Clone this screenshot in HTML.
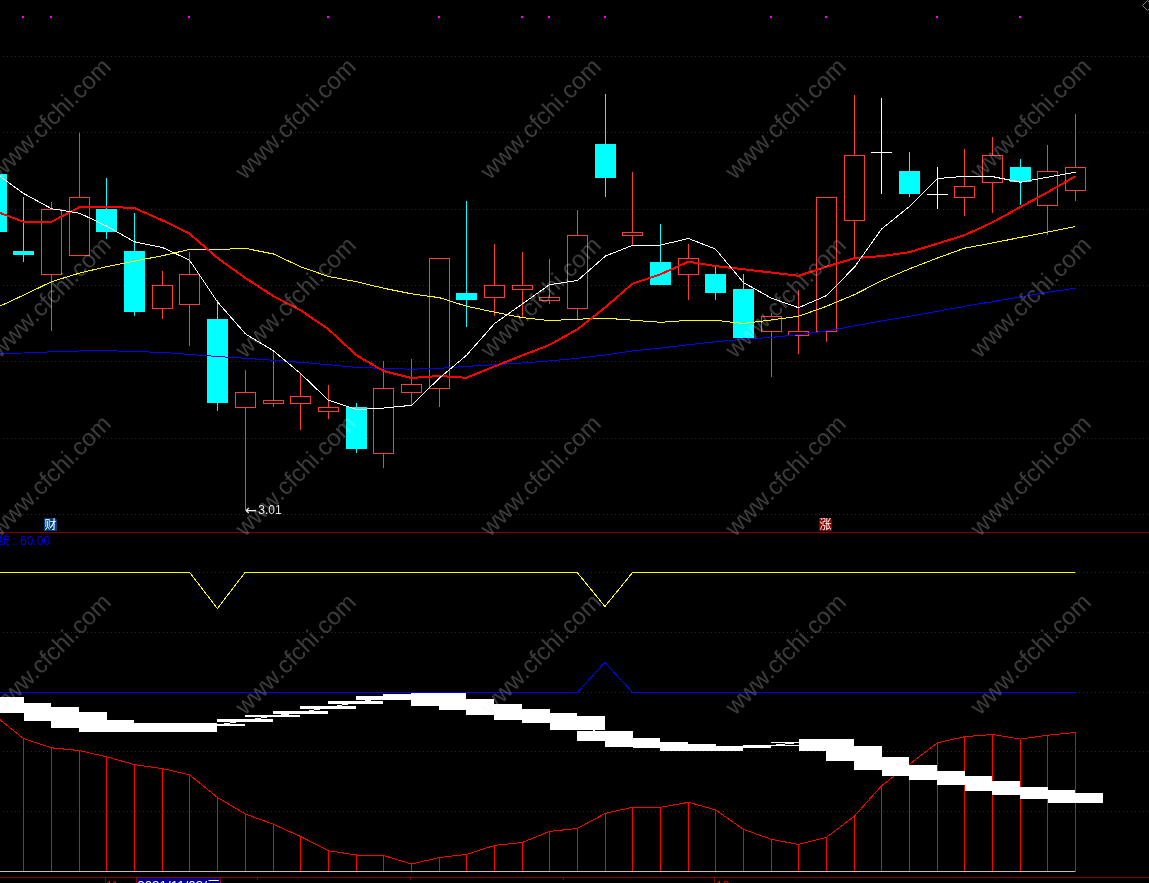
<!DOCTYPE html>
<html lang="zh"><head><meta charset="utf-8"><title>chart</title>
<style>html,body{margin:0;padding:0;background:#000;width:1149px;height:883px;overflow:hidden}</style>
</head><body>
<svg width="1149" height="883" viewBox="0 0 1149 883" style="display:block;position:absolute;left:0;top:0;will-change:transform">
<rect width="1149" height="883" fill="#000"/>
<g stroke="#8E0000" stroke-width="1" stroke-dasharray="1 3" shape-rendering="crispEdges">
<line x1="3" y1="56.5" x2="1149" y2="56.5"/>
<line x1="3" y1="132.5" x2="1149" y2="132.5"/>
<line x1="3" y1="209.5" x2="1149" y2="209.5"/>
<line x1="3" y1="285.5" x2="1149" y2="285.5"/>
<line x1="3" y1="361.5" x2="1149" y2="361.5"/>
<line x1="3" y1="438.5" x2="1149" y2="438.5"/>
<line x1="3" y1="514.5" x2="1149" y2="514.5"/>
<line x1="3" y1="572.5" x2="1149" y2="572.5"/>
<line x1="3" y1="632.5" x2="1149" y2="632.5"/>
<line x1="3" y1="692.5" x2="1149" y2="692.5"/>
<line x1="3" y1="751.5" x2="1149" y2="751.5"/>
<line x1="3" y1="811.5" x2="1149" y2="811.5"/>
</g>
<g fill="#FF00FF" shape-rendering="crispEdges">
<rect x="22" y="16" width="2" height="2"/>
<rect x="50" y="16" width="2" height="2"/>
<rect x="188" y="16" width="2" height="2"/>
<rect x="327" y="16" width="2" height="2"/>
<rect x="438" y="16" width="2" height="2"/>
<rect x="521" y="16" width="2" height="2"/>
<rect x="548" y="16" width="2" height="2"/>
<rect x="604" y="16" width="2" height="2"/>
<rect x="770" y="16" width="2" height="2"/>
<rect x="825" y="16" width="2" height="2"/>
<rect x="936" y="16" width="2" height="2"/>
<rect x="1019" y="16" width="2" height="2"/>
</g>
<path d="M1142.5 5.5 L1147.5 0.5 L1152.5 5.5 L1147.5 10.5 Z" fill="none" stroke="#808080" stroke-width="1"/>
<g shape-rendering="crispEdges">
<rect x="-4" y="174" width="1" height="58" fill="#00FFFF"/>
<rect x="-14" y="174" width="21" height="58" fill="#00FFFF"/>
<rect x="23" y="197" width="1" height="65" fill="#00FFFF"/>
<rect x="13" y="251" width="21" height="4" fill="#00FFFF"/>
<rect x="51" y="202" width="1" height="129" fill="#FF3C3C"/>
<rect x="41.5" y="209.5" width="20" height="65" fill="#000" stroke="#FF3C3C" stroke-width="1"/>
<rect x="79" y="133" width="1" height="123" fill="#FF3C3C"/>
<rect x="69.5" y="197.5" width="20" height="58" fill="#000" stroke="#FF3C3C" stroke-width="1"/>
<rect x="106" y="178" width="1" height="61" fill="#00FFFF"/>
<rect x="96" y="209" width="21" height="23" fill="#00FFFF"/>
<rect x="134" y="213" width="1" height="103" fill="#00FFFF"/>
<rect x="124" y="251" width="21" height="61" fill="#00FFFF"/>
<rect x="162" y="271" width="1" height="48" fill="#FF3C3C"/>
<rect x="152.5" y="285.5" width="20" height="23" fill="#000" stroke="#FF3C3C" stroke-width="1"/>
<rect x="189" y="252" width="1" height="94" fill="#FF3C3C"/>
<rect x="179.5" y="274.5" width="20" height="30" fill="#000" stroke="#FF3C3C" stroke-width="1"/>
<rect x="217" y="300" width="1" height="111" fill="#00FFFF"/>
<rect x="207" y="319" width="21" height="84" fill="#00FFFF"/>
<rect x="245" y="370" width="1" height="140" fill="#FF3C3C"/>
<rect x="235.5" y="392.5" width="20" height="15" fill="#000" stroke="#FF3C3C" stroke-width="1"/>
<rect x="273" y="352" width="1" height="55" fill="#FF3C3C"/>
<rect x="263.5" y="400.5" width="20" height="3" fill="#000" stroke="#FF3C3C" stroke-width="1"/>
<rect x="300" y="374" width="1" height="56" fill="#FF3C3C"/>
<rect x="290.5" y="396.5" width="20" height="7" fill="#000" stroke="#FF3C3C" stroke-width="1"/>
<rect x="328" y="385" width="1" height="34" fill="#FF3C3C"/>
<rect x="318.5" y="407.5" width="20" height="4" fill="#000" stroke="#FF3C3C" stroke-width="1"/>
<rect x="356" y="403" width="1" height="50" fill="#00FFFF"/>
<rect x="346" y="407" width="21" height="42" fill="#00FFFF"/>
<rect x="383" y="361" width="1" height="107" fill="#FF3C3C"/>
<rect x="373.5" y="388.5" width="20" height="65" fill="#000" stroke="#FF3C3C" stroke-width="1"/>
<rect x="411" y="359" width="1" height="47" fill="#FF3C3C"/>
<rect x="401.5" y="384.5" width="20" height="8" fill="#000" stroke="#FF3C3C" stroke-width="1"/>
<rect x="439" y="258" width="1" height="149" fill="#FF3C3C"/>
<rect x="429.5" y="258.5" width="20" height="130" fill="#000" stroke="#FF3C3C" stroke-width="1"/>
<rect x="466" y="201" width="1" height="126" fill="#00FFFF"/>
<rect x="456" y="293" width="21" height="7" fill="#00FFFF"/>
<rect x="494" y="244" width="1" height="72" fill="#FF3C3C"/>
<rect x="484.5" y="285.5" width="20" height="12" fill="#000" stroke="#FF3C3C" stroke-width="1"/>
<rect x="522" y="252" width="1" height="66" fill="#FF3C3C"/>
<rect x="512.5" y="285.5" width="20" height="4" fill="#000" stroke="#FF3C3C" stroke-width="1"/>
<rect x="549" y="259" width="1" height="45" fill="#FF3C3C"/>
<rect x="539.5" y="297.5" width="20" height="3" fill="#000" stroke="#FF3C3C" stroke-width="1"/>
<rect x="577" y="210" width="1" height="109" fill="#FF3C3C"/>
<rect x="567.5" y="235.5" width="20" height="73" fill="#000" stroke="#FF3C3C" stroke-width="1"/>
<rect x="605" y="94" width="1" height="103" fill="#00FFFF"/>
<rect x="595" y="144" width="21" height="34" fill="#00FFFF"/>
<rect x="632" y="172" width="1" height="74" fill="#FF3C3C"/>
<rect x="622.5" y="232.5" width="20" height="3" fill="#000" stroke="#FF3C3C" stroke-width="1"/>
<rect x="660" y="224" width="1" height="61" fill="#00FFFF"/>
<rect x="650" y="262" width="21" height="23" fill="#00FFFF"/>
<rect x="688" y="244" width="1" height="56" fill="#FF3C3C"/>
<rect x="678.5" y="258.5" width="20" height="16" fill="#000" stroke="#FF3C3C" stroke-width="1"/>
<rect x="715" y="267" width="1" height="33" fill="#00FFFF"/>
<rect x="705" y="274" width="21" height="19" fill="#00FFFF"/>
<rect x="743" y="274" width="1" height="64" fill="#00FFFF"/>
<rect x="733" y="289" width="21" height="49" fill="#00FFFF"/>
<rect x="771" y="313" width="1" height="64" fill="#FF3C3C"/>
<rect x="761.5" y="316.5" width="20" height="15" fill="#000" stroke="#FF3C3C" stroke-width="1"/>
<rect x="798" y="290" width="1" height="64" fill="#FF3C3C"/>
<rect x="788.5" y="331.5" width="20" height="4" fill="#000" stroke="#FF3C3C" stroke-width="1"/>
<rect x="826" y="197" width="1" height="145" fill="#FF3C3C"/>
<rect x="816.5" y="197.5" width="20" height="134" fill="#000" stroke="#FF3C3C" stroke-width="1"/>
<rect x="854" y="95" width="1" height="163" fill="#FF3C3C"/>
<rect x="844.5" y="155.5" width="20" height="65" fill="#000" stroke="#FF3C3C" stroke-width="1"/>
<rect x="881" y="98" width="1" height="96" fill="#fff"/>
<rect x="871" y="152" width="21" height="1" fill="#fff"/>
<rect x="909" y="152" width="1" height="45" fill="#00FFFF"/>
<rect x="899" y="171" width="21" height="23" fill="#00FFFF"/>
<rect x="937" y="167" width="1" height="42" fill="#fff"/>
<rect x="927" y="194" width="21" height="1" fill="#fff"/>
<rect x="964" y="149" width="1" height="67" fill="#FF3C3C"/>
<rect x="954.5" y="186.5" width="20" height="11" fill="#000" stroke="#FF3C3C" stroke-width="1"/>
<rect x="992" y="137" width="1" height="76" fill="#FF3C3C"/>
<rect x="982.5" y="155.5" width="20" height="27" fill="#000" stroke="#FF3C3C" stroke-width="1"/>
<rect x="1020" y="159" width="1" height="46" fill="#00FFFF"/>
<rect x="1010" y="167" width="21" height="15" fill="#00FFFF"/>
<rect x="1047" y="145" width="1" height="90" fill="#FF3C3C"/>
<rect x="1037.5" y="171.5" width="20" height="34" fill="#000" stroke="#FF3C3C" stroke-width="1"/>
<rect x="1075" y="114" width="1" height="87" fill="#FF3C3C"/>
<rect x="1065.5" y="167.5" width="20" height="23" fill="#000" stroke="#FF3C3C" stroke-width="1"/>
</g>
<polyline points="-3.5,353.4 23.5,353.0 51.5,351.8 79.5,351.0 106.5,350.5 134.5,351.7 162.5,352.3 189.5,354.5 217.5,356.5 245.5,358.3 273.5,360.3 300.5,362.3 328.5,364.7 356.5,367.4 383.5,368.4 411.5,369.2 439.5,368.3 466.5,366.4 494.5,364.7 522.5,363.0 549.5,360.9 577.5,358.3 605.5,354.9 632.5,350.9 660.5,348.1 688.5,344.7 715.5,341.7 743.5,339.3 771.5,337.3 798.5,334.7 826.5,330.9 854.5,325.9 881.5,320.9 909.5,316.3 937.5,311.3 964.5,306.3 992.5,301.7 1020.5,296.9 1047.5,292.2 1075.5,288.2" fill="none" stroke="#0000FF" stroke-width="1" stroke-linejoin="round" shape-rendering="crispEdges" />
<polyline points="-3.5,307.7 23.5,295.2 51.5,281.7 79.5,273.1 106.5,266.7 134.5,261.1 162.5,255.7 189.5,249.5 217.5,249.5 245.5,248.4 273.5,254.0 300.5,266.7 328.5,276.5 356.5,281.7 383.5,288.2 411.5,293.8 439.5,297.7 466.5,306.2 494.5,312.2 522.5,317.6 549.5,320.6 577.5,319.2 605.5,318.2 632.5,320.2 660.5,322.3 688.5,320.3 715.5,320.3 743.5,323.5 771.5,319.9 798.5,316.3 826.5,306.3 854.5,294.6 881.5,280.8 909.5,268.8 937.5,258.0 964.5,248.2 992.5,243.0 1020.5,237.4 1047.5,232.2 1075.5,226.5" fill="none" stroke="#FFFF00" stroke-width="1" stroke-linejoin="round" shape-rendering="crispEdges" />
<polyline points="-3.5,211.6 23.5,221.8 51.5,221.8 79.5,207.1 106.5,206.7 134.5,208.1 162.5,220.4 189.5,233.6 217.5,258.0 245.5,278.1 273.5,296.2 300.5,310.2 328.5,329.3 356.5,355.3 383.5,371.0 411.5,378.0 439.5,376.0 466.5,377.8 494.5,366.4 522.5,355.3 549.5,344.9 577.5,329.3 605.5,307.2 632.5,283.7 660.5,274.3 688.5,261.7 715.5,266.1 743.5,269.2 771.5,272.6 798.5,275.8 826.5,266.7 854.5,258.1 881.5,256.1 909.5,252.1 937.5,243.6 964.5,235.2 992.5,222.4 1020.5,207.0 1047.5,192.3 1075.5,176.2" fill="none" stroke="#FF0000" stroke-width="2" stroke-linejoin="round" shape-rendering="crispEdges" />
<polyline points="-3.5,173.9 23.5,193.4 51.5,208.7 79.5,213.2 106.5,226.0 134.5,241.8 162.5,247.5 189.5,260.1 217.5,301.9 245.5,333.9 273.5,350.9 300.5,373.5 328.5,400.3 356.5,409.6 383.5,408.1 411.5,405.3 439.5,378.0 466.5,355.3 494.5,323.6 522.5,303.8 549.5,284.7 577.5,280.5 605.5,256.0 632.5,245.4 660.5,245.1 688.5,238.5 715.5,249.1 743.5,282.6 771.5,298.2 798.5,307.7 826.5,295.6 854.5,267.1 881.5,229.1 909.5,206.4 937.5,178.5 964.5,176.3 992.5,176.6 1020.5,182.2 1047.5,177.2 1075.5,172.2" fill="none" stroke="#FFFFFF" stroke-width="1" stroke-linejoin="round" shape-rendering="crispEdges" />
<text x="245" y="515" font-family="'DejaVu Sans',sans-serif" font-size="14" fill="#F0F0F0">←</text>
<text x="258.3" y="514" font-family="'Liberation Sans',sans-serif" font-size="12" fill="#E6E6EC">3.01</text>
<path d="M44 518 H55 L57 520 V531 H44 Z" fill="#004080"/>
<text x="44.5" y="529" font-family="'Liberation Sans','Noto Sans CJK SC',sans-serif" font-size="12" fill="#fff">财</text>
<path d="M819 518 H830 L832 520 V531 H819 Z" fill="#8B0000"/>
<text x="819.5" y="529" font-family="'Liberation Sans','Noto Sans CJK SC',sans-serif" font-size="12" fill="#fff">涨</text>
<rect x="0" y="532" width="1149" height="1" fill="#800000"/>
<text y="545" font-family="'Liberation Sans','Noto Sans CJK SC',sans-serif" font-size="12" fill="#0000FF"><tspan x="-1.8">统</tspan><tspan x="12.3">: </tspan><tspan x="20.1">60.00</tspan></text>
<polyline points="0.0,572.5 189.7,572.5 217.4,608.5 245.0,572.5 577.2,572.5 604.9,606.5 632.6,572.5 1075.4,572.5" fill="none" stroke="#FFFF00" stroke-width="1" shape-rendering="crispEdges"/>
<polyline points="0.0,692.5 577.2,692.5 604.9,662.5 632.6,692.5 1075.4,692.5" fill="none" stroke="#0000FF" stroke-width="1" shape-rendering="crispEdges"/>
<g shape-rendering="crispEdges" fill="#FF0000">
<rect x="23" y="739" width="1" height="132"/>
<rect x="51" y="748" width="1" height="123"/>
<rect x="79" y="751" width="1" height="120"/>
<rect x="106" y="757" width="1" height="114"/>
<rect x="134" y="765" width="1" height="106"/>
<rect x="162" y="769" width="1" height="102"/>
<rect x="189" y="775" width="1" height="96"/>
<rect x="217" y="798" width="1" height="73"/>
<rect x="245" y="814" width="1" height="57"/>
<rect x="273" y="824" width="1" height="47"/>
<rect x="300" y="836" width="1" height="35"/>
<rect x="328" y="851" width="1" height="20"/>
<rect x="356" y="855" width="1" height="16"/>
<rect x="383" y="856" width="1" height="15"/>
<rect x="411" y="864" width="1" height="7"/>
<rect x="439" y="858" width="1" height="13"/>
<rect x="466" y="854" width="1" height="17"/>
<rect x="494" y="845" width="1" height="26"/>
<rect x="522" y="842" width="1" height="29"/>
<rect x="549" y="831" width="1" height="40"/>
<rect x="577" y="828" width="1" height="43"/>
<rect x="605" y="813" width="1" height="58"/>
<rect x="632" y="807" width="1" height="64"/>
<rect x="660" y="807" width="1" height="64"/>
<rect x="688" y="802" width="1" height="69"/>
<rect x="715" y="810" width="1" height="61"/>
<rect x="743" y="829" width="1" height="42"/>
<rect x="771" y="839" width="1" height="32"/>
<rect x="798" y="844" width="1" height="27"/>
<rect x="826" y="837" width="1" height="34"/>
<rect x="854" y="816" width="1" height="55"/>
<rect x="881" y="786" width="1" height="85"/>
<rect x="909" y="764" width="1" height="107"/>
<rect x="937" y="743" width="1" height="128"/>
<rect x="964" y="737" width="1" height="134"/>
<rect x="992" y="734" width="1" height="137"/>
<rect x="1020" y="739" width="1" height="132"/>
<rect x="1047" y="735" width="1" height="136"/>
<rect x="1075" y="732" width="1" height="139"/>
</g>
<polyline points="-3.5,716.9 23.5,738.6 51.5,747.8 79.5,750.6 106.5,756.8 134.5,764.6 162.5,768.6 189.5,774.8 217.5,797.5 245.5,814.1 273.5,824.3 300.5,836.5 328.5,850.7 356.5,855.0 383.5,855.5 411.5,864.0 439.5,857.5 466.5,854.4 494.5,845.4 522.5,842.4 549.5,831.4 577.5,828.4 605.5,813.3 632.5,807.3 660.5,807.3 688.5,802.3 715.5,809.9 743.5,829.4 771.5,839.4 798.5,844.4 826.5,837.4 854.5,816.0 881.5,785.8 909.5,764.2 937.5,742.7 964.5,736.7 992.5,734.5 1020.5,739.1 1047.5,735.3 1075.5,732.4" fill="none" stroke="#FF0000" stroke-width="1" stroke-linejoin="round" shape-rendering="crispEdges" />
<rect x="0" y="871" width="1075.4" height="1" fill="#C0C0C0"/>
<g fill="#fff" shape-rendering="crispEdges">
<rect x="-32" y="697" width="56" height="13"/>
<rect x="-4" y="703" width="55" height="10"/>
<rect x="24" y="707" width="55" height="14"/>
<rect x="51" y="712" width="56" height="16"/>
<rect x="79" y="720" width="55" height="12"/>
<rect x="107" y="723" width="55" height="9"/>
<rect x="134" y="723" width="56" height="8"/>
<rect x="162" y="723" width="55" height="9"/>
<rect x="190" y="724" width="55" height="2"/>
<rect x="217" y="719" width="56" height="3"/>
<rect x="245" y="715" width="55" height="2"/>
<rect x="273" y="711" width="55" height="3"/>
<rect x="300" y="706" width="56" height="3"/>
<rect x="328" y="701" width="55" height="3"/>
<rect x="356" y="696" width="55" height="4"/>
<rect x="383" y="694" width="56" height="4"/>
<rect x="411" y="693" width="55" height="13"/>
<rect x="439" y="699" width="55" height="11"/>
<rect x="466" y="704" width="56" height="11"/>
<rect x="494" y="709" width="56" height="11"/>
<rect x="522" y="713" width="55" height="10"/>
<rect x="550" y="716" width="55" height="14"/>
<rect x="577" y="731" width="56" height="10"/>
<rect x="605" y="738" width="55" height="9"/>
<rect x="633" y="742" width="55" height="6"/>
<rect x="660" y="744" width="56" height="7"/>
<rect x="688" y="746" width="55" height="5"/>
<rect x="716" y="746" width="55" height="2"/>
<rect x="743" y="745" width="56" height="1"/>
<rect x="771" y="742" width="55" height="1"/>
<rect x="799" y="739" width="55" height="12"/>
<rect x="826" y="746" width="56" height="15"/>
<rect x="854" y="757" width="55" height="13"/>
<rect x="882" y="765" width="55" height="11"/>
<rect x="909" y="771" width="56" height="9"/>
<rect x="937" y="776" width="55" height="9"/>
<rect x="965" y="781" width="55" height="10"/>
<rect x="992" y="787" width="56" height="8"/>
<rect x="1020" y="790" width="55" height="9"/>
<rect x="1048" y="793" width="55" height="10"/>
</g>
<polyline points="-3.5,703.5 23.5,708.0 51.5,713.9 79.5,719.9 106.5,725.8 134.5,727.4 162.5,727.0 189.5,727.4 217.5,725.0 245.5,720.5 273.5,716.0 300.5,712.5 328.5,707.5 356.5,702.5 383.5,698.0 411.5,695.8 439.5,699.5 466.5,704.5 494.5,709.4 522.5,714.4 549.5,717.9 577.5,722.9 605.5,735.9 632.5,742.5 660.5,745.0 688.5,747.5 715.5,748.3 743.5,747.0 771.5,745.5 798.5,742.5 826.5,744.9 854.5,753.5 881.5,763.5 909.5,770.3 937.5,775.3 964.5,780.3 992.5,785.8 1020.5,790.8 1047.5,794.3 1075.5,797.9" fill="none" stroke="#FFFFFF" stroke-width="1" stroke-linejoin="round" shape-rendering="crispEdges" shape-rendering="crispEdges"/>
<rect x="0" y="877" width="1149" height="1" fill="#8B0000"/>
<rect x="105" y="877" width="1" height="6" fill="#8B0000"/>
<rect x="136" y="877" width="1" height="6" fill="#8B0000"/>
<rect x="257" y="878" width="1" height="2" fill="#8B0000"/>
<rect x="410" y="878" width="1" height="2" fill="#8B0000"/>
<rect x="563" y="878" width="1" height="2" fill="#8B0000"/>
<rect x="714" y="877" width="1" height="6" fill="#8B0000"/>
<text x="106" y="889.5" font-family="'Liberation Sans',sans-serif" font-size="12" fill="#FF0000">11</text>
<text x="716" y="889.5" font-family="'Liberation Sans',sans-serif" font-size="12" fill="#FF0000">12</text>
<rect x="137" y="878" width="83" height="5" fill="#00008B"/>
<rect x="220" y="877" width="1" height="6" fill="#8B0000"/>
<text x="137.2" y="889.7" font-family="'Liberation Sans','Noto Sans CJK SC',sans-serif" font-size="13.4" fill="#fff">2021/11/03/三</text>
<g font-family="'Liberation Sans',sans-serif" font-size="24" fill="#E8E8E8" fill-opacity="0.26">
<text transform="translate(0.1,180.4) rotate(-45)" x="0" y="0">www.cfchi.com</text>
<text transform="translate(245.1,180.4) rotate(-45)" x="0" y="0">www.cfchi.com</text>
<text transform="translate(490.1,180.4) rotate(-45)" x="0" y="0">www.cfchi.com</text>
<text transform="translate(735.1,180.4) rotate(-45)" x="0" y="0">www.cfchi.com</text>
<text transform="translate(980.1,180.4) rotate(-45)" x="0" y="0">www.cfchi.com</text>
<text transform="translate(0.1,358.9) rotate(-45)" x="0" y="0">www.cfchi.com</text>
<text transform="translate(245.1,358.9) rotate(-45)" x="0" y="0">www.cfchi.com</text>
<text transform="translate(490.1,358.9) rotate(-45)" x="0" y="0">www.cfchi.com</text>
<text transform="translate(735.1,358.9) rotate(-45)" x="0" y="0">www.cfchi.com</text>
<text transform="translate(980.1,358.9) rotate(-45)" x="0" y="0">www.cfchi.com</text>
<text transform="translate(0.1,537.4) rotate(-45)" x="0" y="0">www.cfchi.com</text>
<text transform="translate(245.1,537.4) rotate(-45)" x="0" y="0">www.cfchi.com</text>
<text transform="translate(490.1,537.4) rotate(-45)" x="0" y="0">www.cfchi.com</text>
<text transform="translate(735.1,537.4) rotate(-45)" x="0" y="0">www.cfchi.com</text>
<text transform="translate(980.1,537.4) rotate(-45)" x="0" y="0">www.cfchi.com</text>
<text transform="translate(0.1,715.9) rotate(-45)" x="0" y="0">www.cfchi.com</text>
<text transform="translate(245.1,715.9) rotate(-45)" x="0" y="0">www.cfchi.com</text>
<text transform="translate(490.1,715.9) rotate(-45)" x="0" y="0">www.cfchi.com</text>
<text transform="translate(735.1,715.9) rotate(-45)" x="0" y="0">www.cfchi.com</text>
<text transform="translate(980.1,715.9) rotate(-45)" x="0" y="0">www.cfchi.com</text>
</g>
</svg>
</body></html>
